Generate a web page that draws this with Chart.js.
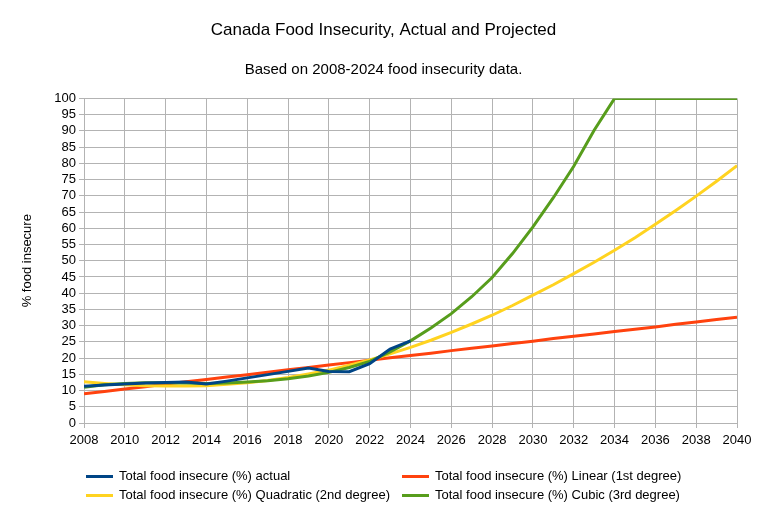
<!DOCTYPE html>
<html>
<head>
<meta charset="utf-8">
<script src="https://cdn.jsdelivr.net/npm/chart.js@4.4.1/dist/chart.umd.min.js"></script>
<style>
    html, body { margin: 0; padding: 0; background: #fff; }
    #wrap { position: relative; width: 767px; height: 507px; font-family: "Liberation Sans", Arial, sans-serif; }
    #legend { position: absolute; left: 0; top: 467px; width: 767px; font-size: 13px; color: #000; }
    .item { position: absolute; height: 18px; line-height: 18px; white-space: nowrap; }
    .swatch { position: absolute; left: 0; top: 8px; width: 27px; height: 3px; }
    .item span.txt { position: absolute; left: 33px; top: 0; }
</style>
</head>
<body>
<div id="wrap">
    <canvas id="chart" width="767" height="507"></canvas>
    <div id="legend"></div>
</div>
<script>
const years = [2008, 2009, 2010, 2011, 2012, 2013, 2014, 2015, 2016, 2017, 2018, 2019, 2020, 2021, 2022, 2023, 2024,
    2025, 2026, 2027, 2028, 2029, 2030, 2031, 2032, 2033, 2034, 2035, 2036, 2037, 2038, 2039, 2040];

// actual survey values, 2008-2024
const actual = [11.3, 11.7, 12.0, 12.3, 12.5, 12.6, 12.0, 12.9, 13.9, 14.9, 15.9, 16.9, 15.9, 15.8, 18.3, 22.8, 25.3];

const linear = [9.0, 9.7, 10.5, 11.2, 12.0, 12.7, 13.4, 14.2, 14.9, 15.6, 16.4, 17.1, 17.9, 18.6, 19.3, 20.1, 20.8,
    21.5, 22.3, 23.0, 23.7, 24.5, 25.2, 26.0, 26.7, 27.4, 28.2, 28.9, 29.6, 30.4, 31.1, 31.9, 32.6];

const quadratic = [12.7, 12.2, 11.8, 11.5, 11.4, 11.4, 11.5, 11.9, 12.4, 13.1, 14.0, 15.1, 16.3, 17.8, 19.4, 21.3, 23.3,
    25.5, 27.9, 30.5, 33.2, 36.2, 39.4, 42.6, 46.0, 49.5, 53.2, 57.1, 61.2, 65.5, 69.9, 74.5, 79.3];

// capped at 100
const cubic = [11.0, 11.8, 12.2, 12.4, 12.4, 12.3, 12.2, 12.3, 12.6, 13.0, 13.6, 14.5, 15.6, 17.1, 19.0, 21.9, 25.3,
    29.3, 33.7, 38.9, 44.8, 52.2, 60.4, 69.4, 79.1, 90.2, 100, 100, 100, 100, 100, 100, 100];

const seriesNames = [
    'Total food insecure (%) actual',
    'Total food insecure (%) Linear (1st degree)',
    'Total food insecure (%) Quadratic (2nd degree)',
    'Total food insecure (%) Cubic (3rd degree)'
];
const colors = ['#004586', '#ff420e', '#ffd320', '#579d1c'];

function toPoints(vals) {
    return vals.map((v, i) => ({ x: years[i], y: v }));
}

const FONT = "'Liberation Sans', Arial, sans-serif";
const gridColor = '#b3b3b3';

const datasets = [actual, linear, quadratic, cubic].map((vals, i) => ({
    label: seriesNames[i],
    data: toPoints(vals),
    borderColor: colors[i],
    backgroundColor: colors[i],
    borderWidth: 3,
    pointRadius: 0,
    tension: 0,
    fill: false,
    order: i === 0 ? 0 : 4 - i
}));

const ctx = document.getElementById('chart').getContext('2d');
// equal left/right padding keeps the titles centred on the whole canvas
const chart = new Chart(ctx, {
    type: 'line',
    data: { datasets: datasets },
    options: {
        responsive: false,
        animation: false,
        layout: { padding: { left: 30, right: 30, top: 0, bottom: 54 } },
        plugins: {
            legend: { display: false },
            tooltip: { enabled: false },
            title: {
                display: true,
                text: 'Canada Food Insecurity, Actual and Projected',
                color: '#000',
                font: { family: FONT, size: 17, weight: 'normal' },
                padding: { top: 20, bottom: 8 }
            },
            subtitle: {
                display: true,
                text: 'Based on 2008-2024 food insecurity data.',
                color: '#000',
                font: { family: FONT, size: 15, weight: 'normal' },
                padding: { top: 12, bottom: 20 }
            }
        },
        scales: {
            x: {
                type: 'linear',
                min: 2008,
                max: 2040,
                afterFit: (s) => { s.height = 30; },
                grid: { color: gridColor, tickLength: 5, tickColor: gridColor },
                border: { color: gridColor, width: 1 },
                ticks: {
                    stepSize: 2,
                    autoSkip: false,
                    color: '#000',
                    maxRotation: 0,
                    padding: 5,
                    font: { family: FONT, size: 13 },
                    callback: (v) => String(v)
                }
            },
            y: {
                min: 0,
                max: 100,
                afterFit: (s) => { s.width = 54; },
                grid: { color: gridColor, tickLength: 5, tickColor: gridColor },
                border: { color: gridColor, width: 1 },
                title: {
                    display: true,
                    text: '% food insecure',
                    color: '#000',
                    font: { family: FONT, size: 13 },
                    padding: { top: -10, bottom: 0 }
                },
                ticks: {
                    stepSize: 5,
                    autoSkip: false,
                    color: '#000',
                    padding: 3,
                    font: { family: FONT, size: 13 }
                }
            }
        }
    }
});

// legend below the plot, two columns like the original
const legendBox = document.getElementById('legend');
const legendPos = [[86, 0], [402, 0], [86, 19], [402, 19]];
seriesNames.forEach((name, i) => {
    const item = document.createElement('div');
    item.className = 'item';
    item.style.left = legendPos[i][0] + 'px';
    item.style.top = legendPos[i][1] + 'px';
    item.innerHTML = '<div class="swatch" style="background:' + colors[i] + '"></div><span class="txt">' + name + '</span>';
    legendBox.appendChild(item);
});
</script>
</body>
</html>
